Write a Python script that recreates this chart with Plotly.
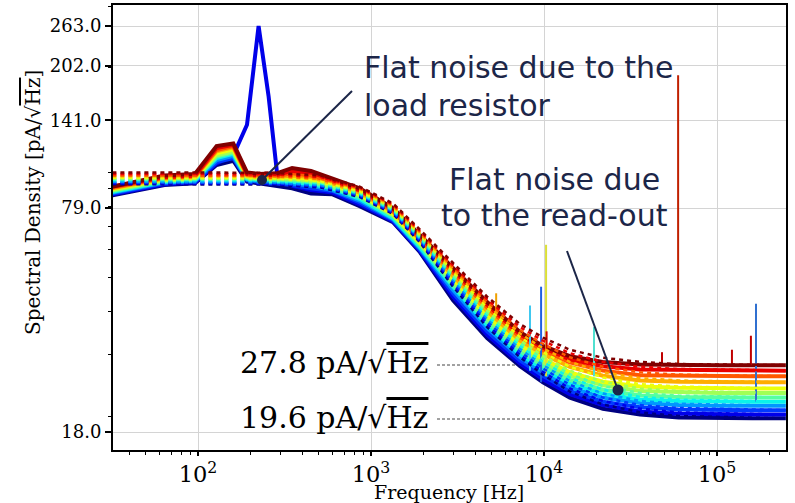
import plotly.graph_objects as go

# ---------------- data ----------------
freq_hz = [32, 64, 96, 128, 160, 192, 224, 256, 288, 350, 450, 600, 860, 1340,
           1920, 2980, 4690, 7270, 9860, 14100, 21900, 35900, 60000, 100000, 160000, 250000]

# measured spectra (solid), from coldest (blue) to warmest (red) colour
psd_c00 = [86, 92, 93, 105, 108, 94, 93, 92, 91.5, 90, 87, 86.5, 80, 72, 59, 43, 33.5, 27.8, 25.0, 22.6, 21.0, 20.2, 19.8, 19.7, 19.7, 19.7]
psd_c01 = [86.5, 92.5, 93.5, 106, 112, 137, 263, 165, 97, 91.5, 89, 87.5, 81, 72.5, 59.5, 44, 34.2, 28.3, 25.5, 23.1, 21.5, 20.6, 20.3, 20.2, 20.2, 20.2]
psd_c02 = [87, 93, 94, 107, 110, 95, 94, 93, 93, 92, 90, 88.5, 82, 73, 60, 45, 35, 28.9, 26.1, 23.6, 22.0, 21.2, 20.9, 20.8, 20.8, 20.8]
psd_c03 = [87.5, 93.5, 94.5, 108.5, 111.5, 95.5, 94.5, 93.5, 94, 93, 91.5, 89, 83, 73.5, 60.5, 46, 35.8, 29.5, 26.7, 24.2, 22.6, 21.8, 21.5, 21.4, 21.4, 21.4]
psd_c04 = [88, 94, 95, 110, 113, 96, 95, 94, 94.5, 94, 92.5, 90, 84, 74, 61, 47, 36.5, 30.1, 27.3, 24.8, 23.2, 22.3, 22.1, 22.0, 22.0, 22.0]
psd_c05 = [88.5, 94.5, 95.5, 111, 114, 96.5, 95.5, 94.5, 95, 95, 93.5, 90.5, 85, 75, 62, 47.5, 37.3, 30.7, 27.9, 25.4, 23.8, 22.9, 22.7, 22.6, 22.6, 22.6]
psd_c06 = [89, 95, 96, 112, 115, 97, 96, 95.5, 95.5, 96, 94.5, 91.5, 86, 75.5, 62.5, 48.5, 38.2, 31.4, 28.6, 26.1, 24.5, 23.6, 23.4, 23.3, 23.3, 23.3]
psd_c07 = [89.5, 95.5, 96.5, 113.5, 116.5, 97.5, 96.5, 96, 96.5, 97, 95.5, 92.5, 86.5, 76, 63, 49.5, 39, 32, 29.2, 26.7, 25.1, 24.3, 24.1, 24.0, 24.0, 24.0]
psd_c08 = [90, 96, 97, 115, 118, 98, 97, 96.5, 97, 98, 97, 93, 87.5, 77, 64, 50.5, 40, 32.9, 30.1, 27.7, 26.1, 25.3, 25.1, 25.0, 25.0, 25.0]
psd_c09 = [90.5, 96.5, 97.5, 116, 119, 98.5, 97.5, 97, 97.5, 99.5, 98, 94, 88.5, 77.5, 64.5, 51.5, 41, 33.7, 30.9, 28.5, 27.0, 26.2, 26.1, 26.0, 26.0, 26.0]
psd_c10 = [91, 97, 98, 117.5, 120, 99, 98, 98, 98.5, 101, 100, 95, 89, 78.5, 65.5, 52.5, 41.8, 34.3, 31.4, 29.1, 27.8, 27.2, 27.1, 27.0, 27.0, 27.0]
psd_c11 = [91, 98, 99, 119, 121, 100, 99, 99, 99.5, 103, 101, 96, 90, 79, 66, 53, 42.5, 34.8, 31.8, 29.7, 28.6, 28.1, 28.0, 28.0, 28.0, 28.0]

# model curves (dashed)
model_freq_hz = [32, 64, 128, 256, 512, 860, 1340, 1920, 2980, 4690, 7270, 9860, 14100, 21900, 35900, 60000, 250000]
model_c00 = [92.5, 92.5, 92.5, 92.3, 90.5, 85, 76, 63, 47, 36, 29.5, 26.3, 23.5, 21.6, 20.5, 20.0, 19.7]
model_c01 = [93, 93, 93, 92.8, 91, 85.5, 76.5, 63.5, 47.8, 36.7, 30, 26.8, 24, 22.1, 21, 20.5, 20.2]
model_c02 = [93.5, 93.5, 93.5, 93.3, 91.5, 86, 77, 64, 48.5, 37.4, 30.6, 27.4, 24.6, 22.6, 21.5, 21.1, 20.8]
model_c03 = [94, 94, 94, 93.8, 92, 86.5, 77.5, 64.5, 49.2, 38.1, 31.2, 28, 25.2, 23.2, 22.1, 21.7, 21.4]
model_c04 = [95, 95, 95, 94.8, 93, 87, 78, 65, 50, 38.8, 31.8, 28.6, 25.8, 23.8, 22.7, 22.3, 22.0]
model_c05 = [95.5, 95.5, 95.5, 95.3, 93.5, 87.5, 78.5, 65.5, 50.7, 39.5, 32.4, 29.2, 26.4, 24.4, 23.3, 22.9, 22.6]
model_c06 = [96, 96, 96, 95.8, 94, 88, 79, 66, 51.4, 40.2, 33, 29.8, 27, 25.1, 24, 23.6, 23.3]
model_c07 = [96.5, 96.5, 96.5, 96.3, 94.5, 88.5, 79.5, 66.5, 52, 41, 33.7, 30.5, 27.7, 25.8, 24.7, 24.3, 24.0]
model_c08 = [97.5, 97.5, 97.5, 97.3, 95.5, 89.5, 80, 67, 52.8, 41.8, 34.5, 31.3, 28.6, 26.7, 25.7, 25.3, 25.0]
model_c09 = [98, 98, 98, 97.8, 96, 90, 80.5, 67.5, 53.5, 42.6, 35.3, 32.2, 29.5, 27.7, 26.7, 26.3, 26.0]
model_c10 = [99, 99, 99, 98.8, 97, 90.5, 81, 68, 54.2, 43.3, 36, 32.9, 30.3, 28.6, 27.7, 27.3, 27.0]
model_c11 = [100, 100, 100, 99.8, 98, 91, 81.5, 68.5, 55, 44, 36.7, 33.6, 31, 29.4, 28.6, 28.2, 28.0]

curve_colors = ["#000080", "#0000e9", "#003aff", "#0097ff", "#0bf3eb", "#56ffa1",
                "#a1ff56", "#ebff0b", "#ffad00", "#ff5700", "#e90000", "#800000"]

# narrow interference peaks
spike_freq_hz = [5290, 8300, 9620, 10280, 10350, 19450, 48100, 59600, 122000, 157000, 168000]
spike_base = [40, 27, 25, 26, 31, 26, 28, 28, 28, 28, 22]
spike_top = [45, 41.5, 47, 62, 35, 36, 30.5, 190, 31, 34, 42]
spike_colors = ["#f0a000", "#40c8f0", "#2060e0", "#dce036", "#d00000", "#50e0d0",
                "#c00000", "#c02000", "#c00000", "#c00000", "#3070d0"]

y_tick_vals = [18.0, 79.0, 141.0, 202.0, 263.0]
y_tick_text = ["18.0", "79.0", "141.0", "202.0", "263.0"]
y_minor_vals = [20, 30, 40, 50, 60, 70, 80, 90, 100, 200, 300]

psd_curves = [psd_c00, psd_c01, psd_c02, psd_c03, psd_c04, psd_c05,
              psd_c06, psd_c07, psd_c08, psd_c09, psd_c10, psd_c11]
model_curves = [model_c00, model_c01, model_c02, model_c03, model_c04, model_c05,
                model_c06, model_c07, model_c08, model_c09, model_c10, model_c11]

# ---------------- figure ----------------
fig = go.Figure()

for vals, col in zip(psd_curves, curve_colors):
    fig.add_trace(go.Scatter(x=freq_hz, y=vals, mode="lines",
                             line=dict(color=col, width=4), showlegend=False))

for fs, b, t, c in zip(spike_freq_hz, spike_base, spike_top, spike_colors):
    fig.add_trace(go.Scatter(x=[fs, fs], y=[b, t], mode="lines",
                             line=dict(color=c, width=2), showlegend=False))

for vals, col in zip(model_curves, curve_colors):
    fig.add_trace(go.Scatter(x=model_freq_hz, y=vals, mode="lines",
                             line=dict(color=col, width=2.5, dash="4px,4px"),
                             showlegend=False))

NAVY = "#1c2648"
L, R, T, B = 113, 786, 5, 450


def px(x):
    return (x - L) / (R - L)


def py(y):
    return (B - y) / (B - T)


shapes = [
    dict(type="line", xref="paper", yref="paper", x0=px(352), y0=py(91), x1=px(262), y1=py(180),
         line=dict(color=NAVY, width=2)),
    dict(type="line", xref="paper", yref="paper", x0=px(567), y0=py(251), x1=px(618), y1=py(390),
         line=dict(color=NAVY, width=2)),
    dict(type="circle", xref="paper", yref="paper", xsizemode="pixel", ysizemode="pixel",
         xanchor=px(262), yanchor=py(180), x0=-5, x1=5, y0=-5, y1=5,
         fillcolor=NAVY, line=dict(color=NAVY, width=0)),
    dict(type="circle", xref="paper", yref="paper", xsizemode="pixel", ysizemode="pixel",
         xanchor=px(618), yanchor=py(390), x0=-5.5, x1=5.5, y0=-5.5, y1=5.5,
         fillcolor=NAVY, line=dict(color=NAVY, width=0)),
    dict(type="line", xref="paper", yref="paper", x0=px(437), y0=py(365), x1=px(515), y1=py(365),
         line=dict(color="#444444", width=1, dash="3px,2px")),
    dict(type="line", xref="paper", yref="paper", x0=px(437), y0=py(419), x1=px(603), y1=py(419),
         line=dict(color="#444444", width=1, dash="3px,2px")),
]

ann_font = dict(family="DejaVu Sans", size=30, color=NAVY)
tex_font = dict(family="DejaVu Serif", size=30, color="black")
title_font = dict(family="DejaVu Serif", size=19, color="black")
OL = "<span style='text-decoration:overline'>Hz</span>"
annotations = [
    dict(xref="paper", yref="paper", x=px(362), y=py(68), text="Flat noise due to the",
         showarrow=False, xanchor="left", yanchor="middle", font=ann_font),
    dict(xref="paper", yref="paper", x=px(362), y=py(105), text="load resistor",
         showarrow=False, xanchor="left", yanchor="middle", font=ann_font),
    dict(xref="paper", yref="paper", x=px(554), y=py(179), text="Flat noise due",
         showarrow=False, xanchor="center", yanchor="middle", font=ann_font),
    dict(xref="paper", yref="paper", x=px(554), y=py(215), text="to the read-out",
         showarrow=False, xanchor="center", yanchor="middle", font=ann_font),
    dict(xref="paper", yref="paper", x=px(430), y=py(362), text="27.8 pA/√" + OL,
         showarrow=False, xanchor="right", yanchor="middle", font=tex_font),
    dict(xref="paper", yref="paper", x=px(430), y=py(417), text="19.6 pA/√" + OL,
         showarrow=False, xanchor="right", yanchor="middle", font=tex_font),
    # axis titles
    dict(xref="paper", yref="paper", x=px(449), y=py(492), text="Frequency [Hz]",
         showarrow=False, xanchor="center", yanchor="middle", font=title_font),
    dict(xref="paper", yref="paper", x=px(33), y=py(203), text="Spectral Density [pA/√" + OL + "]",
         showarrow=False, xanchor="center", yanchor="middle", textangle=-90,
         font=dict(family="DejaVu Serif", size=20, color="black")),
]

axis_font = dict(family="DejaVu Serif", size=18, color="black")
fig.update_layout(
    width=795, height=503,
    margin=dict(l=L, r=795 - R, t=T, b=503 - B, autoexpand=False),
    paper_bgcolor="white", plot_bgcolor="white",
    shapes=shapes, annotations=annotations,
    xaxis=dict(type="log", range=[1.5087, 5.3988], dtick=1, exponentformat="power",
               automargin=False,
               showgrid=True, gridcolor="#d4d4d4", gridwidth=1,
               ticks="outside", ticklen=4, tickwidth=1.5, tickcolor="black",
               minor=dict(ticks="outside", ticklen=2.5, tickwidth=1, tickcolor="black",
                          dtick="D1", showgrid=False),
               showline=True, linecolor="black", linewidth=2, mirror=True,
               tickfont=axis_font, zeroline=False),
    yaxis=dict(type="log", range=[1.2037, 2.4802], automargin=False,
               tickmode="array", tickvals=y_tick_vals, ticktext=y_tick_text,
               showgrid=True, gridcolor="#d4d4d4", gridwidth=1,
               ticks="outside", ticklen=6, tickwidth=1.5, tickcolor="black",
               minor=dict(ticks="outside", ticklen=3, tickwidth=1, tickcolor="black",
                          tickmode="array", tickvals=y_minor_vals, showgrid=False),
               showline=True, linecolor="black", linewidth=2, mirror=True,
               tickfont=axis_font, zeroline=False),
)

fig.write_html("out.html")
